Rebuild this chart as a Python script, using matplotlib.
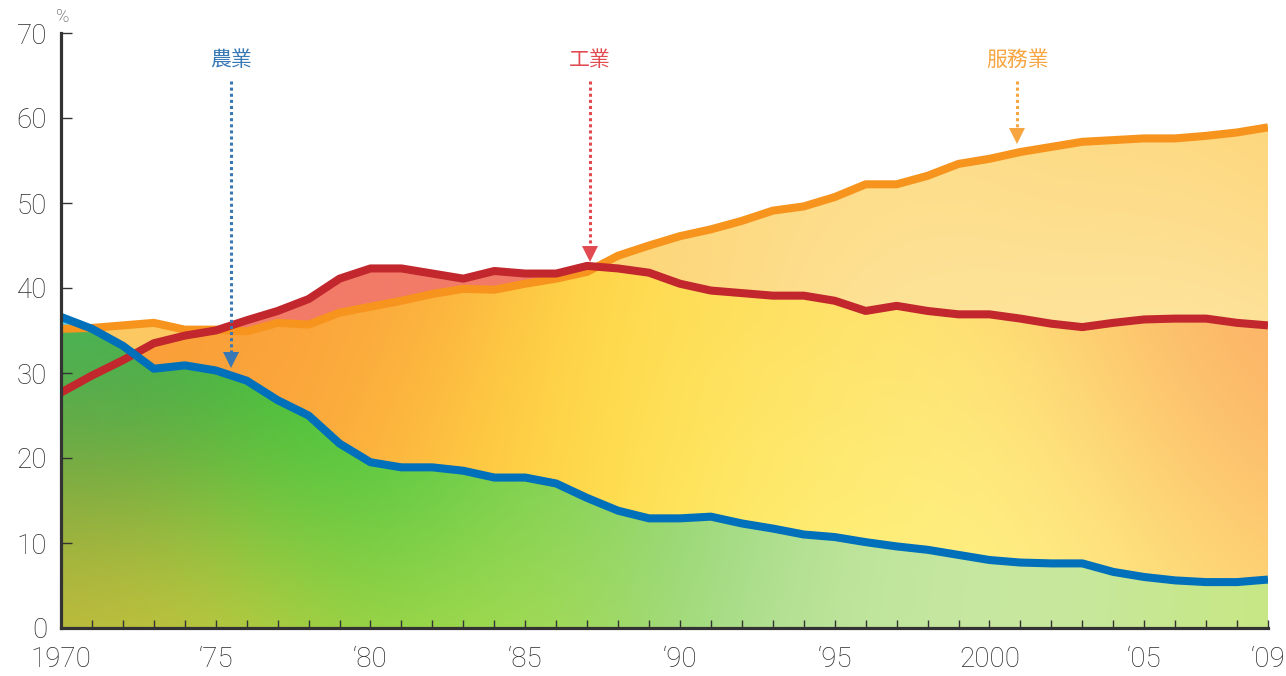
import numpy as np
import matplotlib
matplotlib.use('Agg')
import matplotlib.pyplot as plt
from matplotlib.path import Path
from matplotlib.patches import PathPatch
from matplotlib.colors import to_rgb

years = np.arange(1970, 2010)

# employment share by sector (%)
agri = [36.6, 35.2, 33.2, 30.5, 30.9, 30.3, 29.1, 26.8, 25.0, 21.7,
        19.5, 18.9, 18.9, 18.5, 17.7, 17.7, 17.0, 15.3, 13.8, 12.9,
        12.9, 13.1, 12.3, 11.7, 11.0, 10.7, 10.1, 9.6, 9.2, 8.6,
        8.0, 7.7, 7.6, 7.6, 6.6, 6.0, 5.6, 5.4, 5.4, 5.7]
industry = [27.7, 29.7, 31.5, 33.5, 34.4, 35.0, 36.2, 37.3, 38.7, 41.1,
            42.3, 42.3, 41.7, 41.1, 42.0, 41.7, 41.7, 42.6, 42.3, 41.8,
            40.5, 39.7, 39.4, 39.1, 39.1, 38.5, 37.3, 37.9, 37.3, 36.9,
            36.9, 36.4, 35.8, 35.4, 35.9, 36.3, 36.4, 36.4, 35.9, 35.6]
services = [35.2, 35.3, 35.6, 35.9, 35.1, 35.1, 34.9, 35.9, 35.7, 37.1,
            37.8, 38.5, 39.3, 39.9, 39.8, 40.5, 41.1, 41.9, 43.8, 45.0,
            46.1, 46.9, 47.9, 49.1, 49.6, 50.7, 52.2, 52.2, 53.2, 54.6,
            55.2, 56.0, 56.6, 57.2, 57.4, 57.6, 57.6, 57.9, 58.3, 58.9]

tick_years = [1970, 1975, 1980, 1985, 1990, 1995, 2000, 2005, 2009]
tick_labels = ['1970', '\u201875', '\u201880', '\u201885', '\u201890',
               '\u201895', '2000', '\u201805', '\u201809']

labels = ['農業', '工業', '服務業']
label_x = [1975.5, 1987.1, 2000.9]
label_tip = [30.5, 43.0, 56.9]
label_colors = ['#3878b4', '#e04a50', '#f7a540']

c_blue = '#0070ba'
c_red = '#c1272d'
c_orange = '#f7941d'

agri = np.array(agri)
industry = np.array(industry)
services = np.array(services)


def gradient(anchors, sigma=0.28, nx=400, ny=300):
    # smooth colour field from a few anchor colours (gaussian weights)
    gx = np.linspace(1970, 2009, nx)
    gy = np.linspace(0, 70, ny)
    X, Y = np.meshgrid(gx, gy)
    U = (X - 1970) / 39 * 2.0
    V = Y / 70
    tot = np.zeros(X.shape)
    img = np.zeros(X.shape + (3,))
    for ax_, ay_, col in anchors:
        u = (ax_ - 1970) / 39 * 2.0
        v = ay_ / 70
        w = np.exp(-((U - u) ** 2 + (V - v) ** 2) / (2 * sigma ** 2))
        tot += w
        img += w[..., None] * np.array(to_rgb(col))
    return img / tot[..., None]


def clip_fill(ax, top, anchors, sigma=0.28):
    bottom = np.zeros_like(top)
    verts = list(zip(years, bottom)) + list(zip(years[::-1], top[::-1]))
    patch = PathPatch(Path(verts), transform=ax.transData,
                      facecolor='none', edgecolor='none')
    ax.add_patch(patch)
    im = ax.imshow(gradient(anchors, sigma), extent=[1970, 2009, 0, 70],
                   origin='lower', aspect='auto', interpolation='bilinear')
    im.set_clip_path(patch)


fig = plt.figure(figsize=(12.86, 6.76), dpi=100)
ax = fig.add_axes([61 / 1286, 48 / 676, 1207 / 1286, 595 / 676])
ax.set_xlim(1970, 2009)
ax.set_ylim(0, 70)

# services area
clip_fill(ax, services, [(1974, 35, '#fcc862'), (1988, 45, '#fdd67a'),
                         (1998, 42, '#fee8a6'), (2006, 42, '#fee9aa'),
                         (2009, 57, '#fdd272'), (1996, 51, '#fdd97e'),
                         (2003, 55, '#fdd77a')], sigma=0.18)
# industry area above services
clip_fill(ax, industry, [(1980, 40, '#f27b68'), (1986, 42, '#f27b68')])
# below both
mid = np.minimum(industry, services)
clip_fill(ax, mid, [(1974, 33, '#f99a38'), (1980, 36, '#fba43c'),
                    (1977, 22, '#fca83c'), (1988, 28, '#ffdf48'),
                    (1984, 18, '#ffd242'), (1994, 34, '#fed85e'),
                    (1993, 16, '#fff070'), (2000, 17, '#fff68a'),
                    (2005, 8, '#fff488'), (2009, 24, '#fca862'),
                    (2009, 34, '#fcb066'), (2003, 34, '#fdc86c'),
                    (2009, 8, '#fdd070'), (1998, 27, '#ffee7c')],
          sigma=0.2)
# agriculture: cyan sliver then green
clip_fill(ax, agri, [(1970, 35, '#5ac8f0')])
low = np.minimum(agri, services)
clip_fill(ax, low, [(1972, 2, '#d4c63e'), (1971, 24, '#3f913f'),
                    (1970, 33, '#44c866'), (1977, 21, '#3cc43c'),
                    (1970, 13, '#8aa23c'), (1981, 16, '#3ec43e'),
                    (1985, 14, '#78cc52'), (1984, 5, '#cae650'),
                    (1990, 9, '#98d880'), (1995, 5, '#c4e6a0'),
                    (2002, 3, '#c8e8a0'), (2009, 2, '#c8e884'),
                    (1977, 4, '#c2d444'), (1970, 3, '#d4c23a')],
          sigma=0.17)

lw = 5.8
ax.plot(years, services, color=c_orange, lw=lw, solid_capstyle='butt', zorder=5)
ax.plot(years, industry, color=c_red, lw=lw, solid_capstyle='butt', zorder=6)
ax.plot(years, agri, color=c_blue, lw=lw, solid_capstyle='butt', zorder=7)

# labels with dotted arrows
for txt, xx, tip, col in zip(labels, label_x, label_tip, label_colors):
    ax.text(xx, 66.8, txt, color=col, ha='center', va='center', fontsize=15,
            family=['Noto Sans CJK TC', 'DejaVu Sans'], fontweight='light',
            clip_on=False, zorder=10)
    ax.plot([xx, xx], [64.3, tip + 1.6], color=col, lw=2.2, ls=(0, (1, 1)),
            clip_on=False, zorder=10)
    ax.plot([xx], [tip + 1.0], marker='v', color=col, markersize=11,
            markeredgewidth=0, clip_on=False, zorder=10)

# axes styling
for s in ['top', 'right']:
    ax.spines[s].set_visible(False)
for s in ['left', 'bottom']:
    ax.spines[s].set_linewidth(2.3)
    ax.spines[s].set_color('#333333')
    ax.spines[s].set_zorder(20)

ax.set_xticks(tick_years)
ax.set_xticklabels(tick_labels)
ax.set_xticks(years, minor=True)
ax.set_yticks(range(0, 71, 10))
ax.tick_params(axis='both', which='both', direction='in', length=6,
               width=1.0, color='#333333', labelsize=20, labelcolor='#2a2a2a')
ax.tick_params(axis='x', which='major', pad=13)
ax.tick_params(axis='y', which='major', pad=10, length=8)
for lab in ax.get_xticklabels() + ax.get_yticklabels():
    lab.set_family('Roboto')
    lab.set_fontweight('light')

fig.text(63 / 1286, 1 - 17 / 676, '%', fontsize=13, color='#444444',
         ha='center', va='center', family='Roboto', fontweight='light')

plt.savefig('out.png', dpi=100)
